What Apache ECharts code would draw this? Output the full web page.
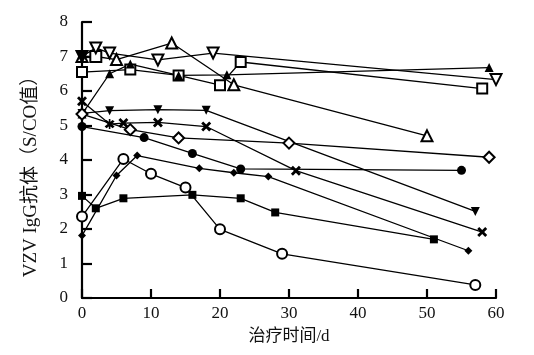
<!DOCTYPE html>
<html>
<head>
<meta charset="utf-8">
<script src="https://cdn.jsdelivr.net/npm/echarts@6/dist/echarts.min.js"></script>
<style>html,body{margin:0;padding:0;background:#fff}#c{width:534px;height:355px}</style>
</head>
<body>
<div id="c"></div>
<script>
// ---- data (days / S/CO values) ----
const xTicks = [0, 10, 20, 30, 40, 50, 60];
const yTicks = [0, 1, 2, 3, 4, 5, 6, 7, 8];

const daysTriUpOpen = [0, 2, 5, 13, 22, 50];
const valsTriUpOpen = [7.0, 7.0, 6.91, 7.39, 6.18, 4.70];

const daysTriDownOpen = [0, 2, 4, 11, 19, 60];
const valsTriDownOpen = [7.0, 7.25, 7.1, 6.9, 7.1, 6.33];

const daysSquareOpen = [0, 7, 14, 20, 23, 58];
const valsSquareOpen = [6.55, 6.62, 6.45, 6.17, 6.84, 6.07];

const daysTriUpFilled = [0, 4, 7, 14, 21, 59];
const valsTriUpFilled = [5.33, 6.5, 6.78, 6.45, 6.47, 6.68];

const daysTriDownFilled = [0, 4, 11, 18, 57];
const valsTriDownFilled = [5.35, 5.43, 5.46, 5.44, 2.51];

const daysCross = [0, 4, 6, 11, 18, 31, 58];
const valsCross = [5.7, 5.04, 5.07, 5.09, 4.97, 3.69, 1.91];

const daysDiamondOpen = [0, 7, 14, 30, 59];
const valsDiamondOpen = [5.33, 4.88, 4.64, 4.49, 4.08];

const daysDot = [0, 9, 16, 23, 55];
const valsDot = [4.97, 4.65, 4.19, 3.74, 3.70];

const daysDiamondSmall = [0, 5, 8, 17, 22, 27, 56];
const valsDiamondSmall = [1.81, 3.55, 4.13, 3.76, 3.63, 3.52, 1.37];

const daysCircleOpen = [0, 6, 10, 15, 20, 29, 57];
const valsCircleOpen = [2.36, 4.03, 3.6, 3.2, 1.99, 1.28, 0.38];

const daysSquareFilled = [0, 2, 6, 16, 23, 28, 51];
const valsSquareFilled = [2.96, 2.6, 2.89, 2.99, 2.89, 2.48, 1.7];

// ---- chart ----
const pair = (xs, ys) => xs.map((x, i) => [x, ys[i]]);
const X_PATH = 'path://M0,2L2,0L5,3L8,0L10,2L7,5L10,8L8,10L5,7L2,10L0,8L3,5Z';
const STAR_PATH = 'path://M0,2L2,0L5,3L8,0L10,2L7,5L10,8L8,10L5,7L2,10L0,8L3,5Z M4.2,-1H5.8V11H4.2Z';

function mk(name, xs, ys, symbol, size, extra) {
  return Object.assign({
    name: name,
    type: 'line',
    data: pair(xs, ys),
    symbol: symbol,
    symbolSize: size,
    showAllSymbol: true,
    lineStyle: { color: '#000', width: 1.3 },
    itemStyle: { color: '#000', borderColor: '#000', borderWidth: 2 },
    emphasis: { disabled: true },
    animation: false,
    z: 3
  }, extra || {});
}

const series = [
  mk('A', daysTriUpOpen, valsTriUpOpen,
     function (v, p) { return p.dataIndex === 1 ? 'emptyRect' : 'emptyTriangle'; }, 11),
  mk('B', daysTriDownOpen, valsTriDownOpen,
     function (v, p) { return p.dataIndex === 0 ? 'triangle' : 'emptyTriangle'; }, 11,
     { symbolRotate: 180 }),
  mk('C', daysSquareOpen, valsSquareOpen, 'emptyRect', 10),
  mk('D', daysTriUpFilled, valsTriUpFilled, 'triangle', 9, { itemStyle: { color: '#000', borderWidth: 0 } }),
  mk('E', daysTriDownFilled, valsTriDownFilled, 'triangle', 9, { symbolRotate: 180, itemStyle: { color: '#000', borderWidth: 0 } }),
  mk('F', daysCross, valsCross,
     function (v, p) { return p.dataIndex === 1 ? STAR_PATH : X_PATH; }, 10, { itemStyle: { color: '#000', borderWidth: 0 } }),
  mk('G', daysDiamondOpen, valsDiamondOpen, 'emptyDiamond', 11),
  mk('H', daysDot, valsDot, 'circle', 9, { itemStyle: { color: '#000', borderWidth: 0 } }),
  mk('I', daysDiamondSmall, valsDiamondSmall, 'diamond', 8, { itemStyle: { color: '#000', borderWidth: 0 } }),
  mk('J', daysCircleOpen, valsCircleOpen, 'emptyCircle', 10),
  mk('K', daysSquareFilled, valsSquareFilled, 'rect', 8, { itemStyle: { color: '#000', borderWidth: 0 } })
];

const fontFam = '"Liberation Serif", "Noto Sans CJK SC", serif';
const chart = echarts.init(document.getElementById('c'), null, { renderer: 'canvas' });
chart.setOption({
  backgroundColor: '#fff',
  animation: false,
  grid: { left: 82, right: 38, top: 22, bottom: 57, containLabel: false },
  xAxis: {
    type: 'value',
    min: xTicks[0], max: xTicks[xTicks.length - 1], interval: 10,
    name: '治疗时间/d', nameLocation: 'middle', nameGap: 30,
    nameTextStyle: { fontFamily: fontFam, fontSize: 17, color: '#111' },
    axisLine: { show: true, onZero: false, lineStyle: { color: '#000', width: 2.2 } },
    axisTick: { show: true, inside: true, length: 9, lineStyle: { color: '#000', width: 2.2 } },
    axisLabel: { fontFamily: fontFam, fontSize: 17, color: '#111', margin: 7 },
    splitLine: { show: false }
  },
  yAxis: {
    type: 'value',
    min: yTicks[0], max: yTicks[yTicks.length - 1], interval: 1,
    name: 'VZV IgG抗体（S/CO值）', nameLocation: 'middle', nameGap: 41,
    nameTextStyle: { fontFamily: fontFam, fontSize: 19, color: '#111', padding: [0, 24, 0, 0] },
    axisLine: { show: true, onZero: false, lineStyle: { color: '#000', width: 2.2 } },
    axisTick: { show: true, inside: true, length: 10, lineStyle: { color: '#000', width: 2.2 } },
    axisLabel: { fontFamily: fontFam, fontSize: 17, color: '#111', margin: 14 },
    splitLine: { show: false }
  },
  series: series
});
</script>
</body>
</html>
